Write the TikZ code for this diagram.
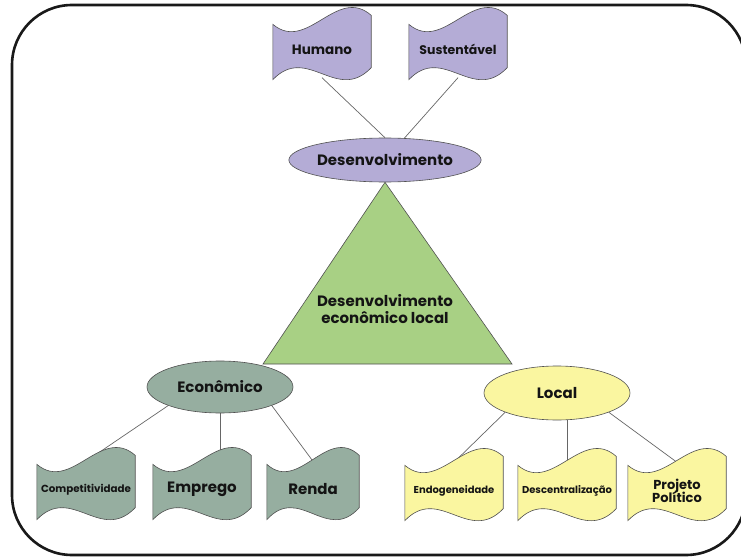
\documentclass[tikz,border=0pt]{standalone}
\usepackage{fontspec}
\setmainfont{Poppins}
\usepackage{tikz}
\usetikzlibrary{positioning, calc, shapes.geometric, backgrounds}

\definecolor{lila}{RGB}{180,172,214}
\definecolor{folha}{RGB}{168,208,132}
\definecolor{salvia}{RGB}{150,174,160}
\definecolor{creme}{RGB}{250,246,160}
\definecolor{contorno}{RGB}{80,80,80}
\definecolor{tinta}{RGB}{20,20,20}

\newcommand{\fs}[1]{\fontsize{#1}{1.25\dimexpr#1pt\relax}\selectfont}

\begin{document}
\begin{tikzpicture}[
    x=1pt, y=1pt,
    bolha/.style  = {ellipse, draw=contorno, line width=0.6pt, inner sep=0pt,
                     text=tinta, font=\bfseries\fs{15}},
    onda/.style   = {rectangle, inner sep=0pt, minimum width=98pt,
                     minimum height=56pt, align=center, text=tinta},
    wave/.style   = {draw=contorno, line width=0.6pt},
    liga/.style   = {draw=black!60, line width=0.7pt},
    moldura/.style= {draw=black!90, line width=2.6pt, rounded corners=60pt}
]
\useasboundingbox (0,0) rectangle (741,558);

%% Outer frame
\draw[moldura] (12,3) rectangle (746,553);

%% Central ellipses
\node[bolha, fill=lila, minimum width=150pt, minimum height=44pt]
    (desenv) at (385,398) {Desenvolvimento};
\node[bolha, fill=salvia, minimum width=146pt, minimum height=52pt]
    (econ) at (220,171) {Econômico};
\node[bolha, fill=creme, minimum width=146pt, minimum height=54pt]
    (local) at (557,165) {Local};

%% Triangle label
\node[align=center, text=tinta, font=\bfseries\fs{15}] (del) at (385,249)
    {Desenvolvimento\\[-2pt]econômico local};

%% Flags above Desenvolvimento
\node[onda, font=\bfseries\fs{13.5}, above=60pt of desenv, xshift=-63pt] (humano) {Humano};
\node[onda, font=\bfseries\fs{12.5}, above=60pt of desenv, xshift=73pt]  (sust)   {Sustentável};

%% Flags below Econômico
\node[onda, font=\bfseries\fs{10.3}, below=48pt of econ, xshift=-134pt] (compet)  {Competitividade};
\node[onda, font=\bfseries\fs{15},   below=48pt of econ, xshift=-18pt]  (emprego) {Emprego};
\node[onda, font=\bfseries\fs{15},   below=48pt of econ, xshift=93pt, minimum width=92pt] (renda) {Renda};

%% Flags below Local
\node[onda, font=\bfseries\fs{10},   below=42pt of local, xshift=-103pt] (endog)   {Endogeneidade};
\node[onda, font=\bfseries\fs{10},   below=42pt of local, xshift=10pt]   (descent) {Descentralização};
\node[onda, font=\bfseries\fs{13},   below=42pt of local, xshift=120pt]  (projeto) {Projeto\\[-3pt]Político};

\begin{pgfonlayer}{background}
    %% Triangle between the three ellipses
    \coordinate (esq) at (263,194);
    \coordinate (dir) at (512,194);
    \draw[wave, fill=folha] (desenv.south) -- (esq) -- (dir) -- cycle;

    %% Connectors
    \draw[liga] (desenv.north) -- (humano.south);
    \draw[liga] (desenv) -- (sust.south);
    \draw[liga] (econ.south west) -- (compet.north);
    \draw[liga] (econ.south) -- (econ.south |- emprego.north);
    \draw[liga] (econ.south east) -- (renda.north);
    \draw[liga] (local.south west) -- (endog.north);
    \draw[liga] (descent.north |- local.south) -- (descent.north);
    \draw[liga] (local.south east) -- (projeto.north);

    %% Wavy flag bodies
    \foreach \n/\c in {humano/lila, sust/lila, compet/salvia, emprego/salvia,
                       renda/salvia, endog/creme, descent/creme, projeto/creme}
        \draw[wave, fill=\c]
            ($(\n.north west)+(0,-3)$)
            .. controls ($(\n.north west)!0.35!(\n.north east)+(0,-32)$)
                    and ($(\n.north west)!0.65!(\n.north east)+(0,36)$)
            .. ($(\n.north east)+(0,6)$)
            -- ($(\n.south east)+(0,10)$)
            .. controls ($(\n.south west)!0.65!(\n.south east)+(0,-26)$)
                    and ($(\n.south west)!0.35!(\n.south east)+(0,34)$)
            .. ($(\n.south west)+(0,-2)$) -- cycle;
\end{pgfonlayer}

\end{tikzpicture}
\end{document}
